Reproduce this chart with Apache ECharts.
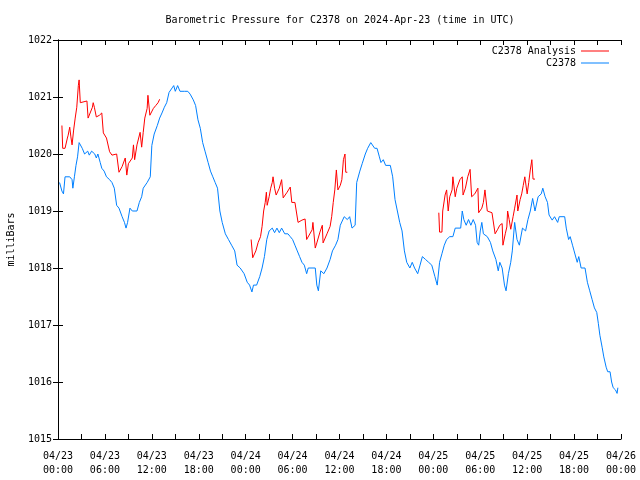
<!DOCTYPE html>
<html>
<head>
<meta charset="utf-8">
<script src="https://cdn.jsdelivr.net/npm/echarts@6/dist/echarts.min.js"></script>
<style>html,body{margin:0;padding:0;background:#fff;}#c{width:640px;height:480px;}</style>
</head>
<body>
<div id="c"></div>
<script>
// hours since 2024-04-23 00:00 UTC
var blueHours = [0.2,0.5,0.7,0.9,1.5,1.8,1.9,2.1,2.3,2.5,2.7,2.9,3.1,3.4,3.8,4.0,4.3,4.7,4.9,5.1,5.4,5.6,5.9,6.2,6.6,6.9,7.2,7.5,7.8,8.2,8.5,8.7,8.9,9.2,9.5,10.1,10.4,10.7,10.9,11.4,11.8,12.0,12.3,12.7,13.0,13.3,13.6,13.9,14.2,14.6,14.8,15.0,15.3,15.6,16.2,16.6,16.9,17.3,17.6,17.9,18.2,18.5,18.8,19.2,19.5,19.8,20.1,20.4,20.7,21.0,21.4,21.8,22.2,22.6,22.9,23.3,23.8,24.2,24.5,24.8,25.0,25.4,25.8,26.1,26.4,26.7,27.0,27.4,27.7,28.0,28.3,28.6,29.0,29.4,29.7,30.0,30.3,30.6,30.9,31.2,31.5,31.8,32.0,32.9,33.1,33.3,33.6,34.0,34.4,34.8,35.1,35.5,35.8,36.1,36.6,37.0,37.3,37.6,38.0,38.2,38.6,38.9,39.3,39.6,40.0,40.2,40.5,40.8,41.1,41.3,41.6,41.9,42.5,42.8,43.1,43.4,43.7,44.0,44.3,44.6,45.0,45.3,45.6,46.0,46.3,46.6,47.0,47.4,47.8,48.2,48.5,48.8,49.1,49.4,49.7,50.1,50.5,50.8,51.5,51.7,51.9,52.2,52.5,52.8,53.1,53.4,53.6,53.8,54.0,54.2,54.4,54.9,55.3,55.6,56.0,56.3,56.5,56.8,57.1,57.3,57.6,57.9,58.1,58.4,58.7,59.0,59.4,59.8,60.1,60.4,60.7,61.0,61.2,61.4,61.8,62.0,62.3,62.6,62.8,63.2,63.5,63.9,64.1,64.8,65.0,65.3,65.5,65.8,66.0,66.4,66.6,66.9,67.4,67.7,68.0,68.3,68.6,68.9,69.1,69.3,69.6,69.8,70.1,70.3,70.6,70.8,71.0,71.3,71.5,71.6];
var blueValues = [1019.5,1019.35,1019.3,1019.6,1019.6,1019.55,1019.4,1019.6,1019.8,1019.95,1020.2,1020.2,1020.1,1020.0,1020.05,1019.98,1020.05,1020.0,1019.93,1020.0,1019.85,1019.75,1019.7,1019.6,1019.55,1019.5,1019.4,1019.1,1019.05,1018.9,1018.8,1018.7,1018.8,1019.05,1019.0,1019.0,1019.15,1019.25,1019.4,1019.5,1019.6,1020.15,1020.35,1020.5,1020.63,1020.72,1020.82,1020.9,1021.08,1021.16,1021.2,1021.1,1021.2,1021.1,1021.1,1021.1,1021.05,1020.95,1020.85,1020.6,1020.45,1020.2,1020.05,1019.85,1019.7,1019.6,1019.5,1019.4,1019.0,1018.8,1018.6,1018.5,1018.4,1018.3,1018.05,1018.0,1017.9,1017.75,1017.7,1017.58,1017.7,1017.7,1017.85,1018.0,1018.2,1018.5,1018.65,1018.7,1018.62,1018.7,1018.62,1018.7,1018.6,1018.6,1018.55,1018.5,1018.4,1018.3,1018.2,1018.1,1018.05,1017.9,1018.0,1018.0,1017.7,1017.6,1017.95,1017.9,1018.0,1018.15,1018.3,1018.4,1018.5,1018.75,1018.9,1018.85,1018.9,1018.7,1018.75,1019.5,1019.7,1019.83,1020.0,1020.1,1020.2,1020.2,1020.1,1020.1,1019.95,1019.85,1019.9,1019.8,1019.8,1019.6,1019.2,1019.0,1018.8,1018.65,1018.3,1018.1,1018.0,1018.1,1018.0,1017.9,1018.05,1018.2,1018.15,1018.1,1018.05,1017.85,1017.7,1018.1,1018.25,1018.4,1018.5,1018.55,1018.55,1018.7,1018.7,1019.0,1018.85,1018.75,1018.85,1018.75,1018.85,1018.75,1018.45,1018.4,1018.65,1018.8,1018.6,1018.55,1018.45,1018.3,1018.15,1017.95,1018.1,1018.0,1017.7,1017.6,1017.9,1018.1,1018.3,1018.8,1018.5,1018.4,1018.7,1018.65,1018.85,1019.0,1019.22,1019.0,1019.0,1019.25,1019.3,1019.4,1019.25,1019.15,1018.93,1018.84,1018.9,1018.8,1018.9,1018.9,1018.7,1018.5,1018.55,1018.4,1018.3,1018.1,1018.2,1018.0,1018.0,1017.75,1017.6,1017.45,1017.3,1017.22,1017.03,1016.82,1016.6,1016.44,1016.26,1016.18,1016.18,1016.0,1015.9,1015.86,1015.8,1015.9];
var redHours = [0.5,0.6,0.9,1.2,1.3,1.5,1.65,1.8,1.9,2.0,2.2,2.4,2.6,2.7,2.85,3.1,3.7,3.85,4.1,4.4,4.5,4.65,4.9,5.3,5.6,5.8,6.2,6.6,6.9,7.5,7.7,7.8,8.2,8.6,8.8,9.0,9.5,9.65,9.8,10.1,10.5,10.7,10.9,11.1,11.4,11.5,11.75,12.0,12.2,12.5,12.8,13.0,
  18,
  24.7,24.9,25.3,25.6,25.9,26.1,26.3,26.5,26.65,26.75,27.0,27.2,27.4,27.5,27.7,27.9,28.3,28.6,28.8,29.3,29.7,29.9,30.3,30.7,31.2,31.6,31.8,32.0,32.5,32.6,32.9,33.1,33.5,33.8,33.9,34.4,34.8,35.0,35.2,35.4,35.6,35.8,36.1,36.3,36.5,36.7,36.8,37.0,
  42,
  48.7,48.8,49.1,49.2,49.5,49.7,49.9,50.1,50.4,50.5,50.8,51.0,51.4,51.7,51.8,52.1,52.4,52.7,52.9,53.3,53.7,53.8,54.2,54.4,54.6,54.9,55.5,55.9,56.2,56.5,56.8,56.9,57.2,57.4,57.5,57.7,57.9,58.2,58.4,58.7,58.8,59.1,59.3,59.5,59.7,60.0,60.2,60.4,60.6,60.75,61.0];
var redValues = [1020.5,1020.1,1020.1,1020.28,1020.33,1020.47,1020.3,1020.16,1020.16,1020.42,1020.63,1020.82,1021.2,1021.3,1020.9,1020.93,1020.93,1020.63,1020.65,1020.82,1020.9,1020.82,1020.65,1020.68,1020.72,1020.37,1020.28,1020.04,1019.98,1020.0,1020.03,1019.68,1019.78,1019.93,1019.63,1019.83,1019.93,1020.16,1019.9,1020.16,1020.38,1020.12,1020.38,1020.63,1020.8,1021.03,1020.68,1020.7,1020.8,1020.85,1020.9,1020.96,
  null,
  1018.5,1018.18,1018.3,1018.45,1018.55,1018.73,1019.0,1019.15,1019.33,1019.1,1019.25,1019.4,1019.5,1019.6,1019.4,1019.28,1019.4,1019.55,1019.23,1019.33,1019.42,1019.15,1019.15,1018.8,1018.84,1018.86,1018.5,1018.5,1018.67,1018.8,1018.35,1018.44,1018.63,1018.75,1018.44,1018.6,1018.73,1018.9,1019.15,1019.37,1019.72,1019.37,1019.45,1019.55,1019.9,1020.0,1019.68,1019.68,
  null,
  1018.97,1018.63,1018.63,1019.0,1019.28,1019.37,1019.0,1019.25,1019.37,1019.6,1019.25,1019.4,1019.55,1019.6,1019.28,1019.4,1019.6,1019.73,1019.25,1019.3,1019.4,1018.97,1019.05,1019.15,1019.37,1019.0,1018.97,1018.6,1018.67,1018.75,1018.78,1018.4,1018.6,1018.72,1019.0,1018.85,1018.68,1018.9,1019.05,1019.28,1019.0,1019.2,1019.3,1019.45,1019.6,1019.3,1019.5,1019.72,1019.9,1019.56,1019.56];
var dayLabels = ['04/23','04/24','04/25','04/26'];
var yTicks = [1015,1016,1017,1018,1019,1020,1021,1022];

function pairs(h, v) {
  var out = [];
  for (var i = 0; i < h.length; i++) out.push([h[i], v[i] === null ? '-' : v[i]]);
  return out;
}
var font = 'DejaVu Sans Mono';
var chart = echarts.init(document.getElementById('c'), null, {renderer: 'canvas'});
function xfmt(h) {
  if (h % 6 !== 0) return '';
  var d = dayLabels[Math.floor(h / 24)];
  var hh = h % 24;
  return d + '\n' + (hh < 10 ? '0' : '') + hh + ':00';
}
var tickStyle = {show: true, inside: true, length: 5, lineStyle: {color: '#000', width: 1}};
chart.setOption({
  animation: false,
  backgroundColor: '#fff',
  title: {
    text: 'Barometric Pressure for C2378 on 2024-Apr-23 (time in UTC)',
    left: 340, top: 15, textAlign: 'center', padding: 0,
    textStyle: {fontFamily: font, fontSize: 10, fontWeight: 'normal', color: '#000'}
  },
  legend: {
    orient: 'vertical', right: 31, top: 46, align: 'right', padding: 0,
    itemWidth: 28, itemHeight: 1, itemGap: 2, icon: 'rect',
    textStyle: {fontFamily: font, fontSize: 10, color: '#000'},
    data: ['C2378 Analysis', 'C2378']
  },
  grid: {left: 58, right: 19, top: 40, bottom: 41, containLabel: false, outerBoundsMode: 'none'},
  xAxis: [{
    type: 'value', min: 0, max: 72, interval: 3, position: 'bottom',
    axisLine: {show: true, lineStyle: {color: '#000', width: 1}},
    axisTick: tickStyle, splitLine: {show: false},
    axisLabel: {formatter: xfmt, fontFamily: font, fontSize: 10, color: '#000', lineHeight: 14, margin: 10, showMinLabel: true, showMaxLabel: true}
  }, {
    type: 'value', min: 0, max: 72, interval: 3, position: 'top',
    axisLine: {show: true, lineStyle: {color: '#000', width: 1}},
    axisTick: tickStyle, splitLine: {show: false}, axisLabel: {show: false}
  }],
  yAxis: [{
    type: 'value', min: yTicks[0], max: yTicks[yTicks.length - 1], interval: 1, position: 'left',
    name: 'milliBars', nameLocation: 'middle', nameRotate: 90, nameGap: 42,
    nameTextStyle: {fontFamily: font, fontSize: 10, color: '#000'},
    axisLine: {show: true, lineStyle: {color: '#000', width: 1}},
    axisTick: tickStyle, splitLine: {show: false},
    axisLabel: {fontFamily: font, fontSize: 10, color: '#000', margin: 6, formatter: function (v) { return String(v); }}
  }, {
    type: 'value', min: yTicks[0], max: yTicks[yTicks.length - 1], interval: 1, position: 'right',
    axisLine: {show: true, lineStyle: {color: '#000', width: 1}},
    axisTick: tickStyle, splitLine: {show: false}, axisLabel: {show: false}
  }],
  series: [{
    name: 'C2378', type: 'line', data: pairs(blueHours, blueValues),
    showSymbol: false, color: '#0080ff', lineStyle: {width: 1, color: '#0080ff'}
  }, {
    name: 'C2378 Analysis', type: 'line', data: pairs(redHours, redValues),
    showSymbol: false, connectNulls: false, color: '#ff0000', lineStyle: {width: 1, color: '#ff0000'}
  }]
});
</script>
</body>
</html>
